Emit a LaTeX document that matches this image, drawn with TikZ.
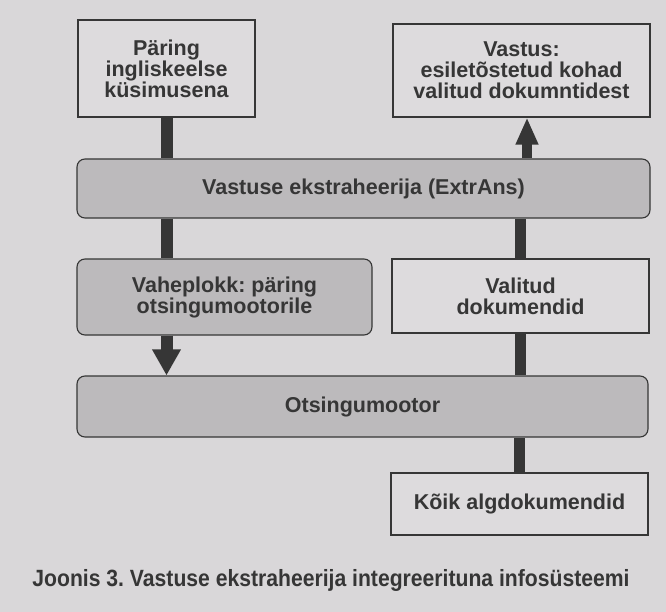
\documentclass[tikz,border=0pt]{standalone}
\usepackage{fontspec}
\setmainfont{Liberation Sans}
\usetikzlibrary{arrows.meta}
\frenchspacing
\definecolor{paper}{HTML}{D9D7D9}
\definecolor{boxfill}{HTML}{DDDBDD}
\definecolor{shade}{HTML}{BCBABC}
\definecolor{ink}{HTML}{363636}
\tikzset{
  plainbox/.style={draw=ink, line width=1.1pt, fill=boxfill, rectangle,
    align=center, font=\fontsize{21.5}{21}\selectfont\bfseries, text=ink, inner sep=0pt},
  shadebox/.style={plainbox, fill=shade, rounded corners=8pt},
  bar/.style={draw=ink, line width=12pt},
  thinbar/.style={draw=ink, line width=11pt},
  uparrow/.style={draw=ink, line width=10pt, -{Triangle[length=27pt,width=21pt]}},
  downarrow/.style={draw=ink, line width=12pt, -{Triangle[length=26pt,width=27pt]}},
}
\begin{document}
\begin{tikzpicture}[x=1pt, y=-1pt]
  \fill[paper] (0,0) rectangle (666,612);
  \useasboundingbox (0,0) rectangle (666,612);

  % top row
  \node[plainbox, minimum width=177pt, minimum height=97pt] (paring) at (166.5,68.5)
    {Päring\\ingliskeelse\\küsimusena};
  \node[plainbox, minimum width=257pt, minimum height=93pt] (vastus) at (521.5,70.5)
    {Vastus:\\esiletõstetud kohad\\valitud dokumntidest};

  % answer extractor
  \node[shadebox, minimum width=573pt, minimum height=59pt] (extr) at (363.5,188.5)
    {Vastuse ekstraheerija (ExtrAns)};

  % middle row
  \node[shadebox, minimum width=295pt, minimum height=76pt] (vahe) at (224.5,297)
    {Vaheplokk: päring\\otsingumootorile};
  \node[plainbox, minimum width=257pt, minimum height=74pt] (valitud) at (520.5,296)
    {Valitud\\dokumendid};

  % search engine
  \node[shadebox, minimum width=571pt, minimum height=61pt] (otsing) at (362.5,406.5)
    {Otsingumootor};

  % document collection
  \node[plainbox, minimum width=257pt, minimum height=62pt] (koik) at (519.5,504)
    {Kõik algdokumendid};

  % caption
  \node[font=\fontsize{23.5}{26}\selectfont\bfseries, text=ink, xscale=0.9, transform shape] (caption) at (331,580)
    {Joonis 3. Vastuse ekstraheerija integreerituna infosüsteemi};

  % connectors, left column
  \draw[bar] (paring.south) -- (paring.south |- extr.north);
  \draw[bar] (paring.south |- extr.south) -- (paring.south |- vahe.north);
  \draw[downarrow] (paring.south |- vahe.south) -- (paring.south |- otsing.north);

  % connectors, right column
  \draw[thinbar] (koik.north) -- (koik.north |- otsing.south);
  \draw[thinbar] (valitud.south |- otsing.north) -- (valitud.south);
  \draw[thinbar] (valitud.north) -- (valitud.north |- extr.south);
  \draw[uparrow] ([xshift=5.5pt]vastus.south |- extr.north) -- ([xshift=5.5pt]vastus.south);
\end{tikzpicture}
\end{document}
